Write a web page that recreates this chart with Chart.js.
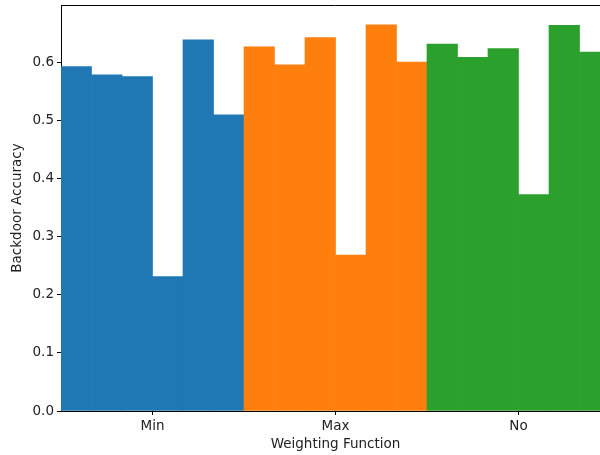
<!DOCTYPE html>
<html>
<head>
<meta charset="utf-8">
<script src="https://cdn.jsdelivr.net/npm/chart.js@4"></script>
<style>
  html, body { margin: 0; padding: 0; background: #fff; overflow: hidden; }
  #wrap { width: 620px; height: 455px; }
</style>
</head>
<body>
<div id="wrap"><canvas id="c" width="620" height="455"></canvas></div>
<script>
// Weighting functions on the x axis
const categories = ['Min', 'Max', 'No'];
// Backdoor accuracy of the six runs under each weighting function
const minScores = [0.592, 0.578, 0.575, 0.231, 0.638, 0.509];
const maxScores = [0.626, 0.595, 0.642, 0.268, 0.664, 0.600];
const noScores  = [0.631, 0.608, 0.623, 0.372, 0.663, 0.617];
const groupColors = ['#1f77b4', '#ff7f0e', '#2ca02c'];
const yTicks = [0.0, 0.1, 0.2, 0.3, 0.4, 0.5, 0.6];

const FONT = { family: 'DejaVu Sans', size: 13.5 };

// One dataset per run; each run contributes one bar to every group
const datasets = minScores.map((_, i) => ({
  label: 'Run ' + (i + 1),
  data: [minScores[i], maxScores[i], noScores[i]],
  backgroundColor: groupColors,
  borderWidth: 0,
  categoryPercentage: 1.0,
  barPercentage: 1.0
}));

// Top and right spines of the axes frame
const frame = {
  id: 'frame',
  afterDraw(chart) {
    const { ctx, chartArea: a } = chart;
    ctx.save();
    ctx.strokeStyle = '#000';
    ctx.lineWidth = 1;
    ctx.beginPath();
    ctx.moveTo(a.left, a.top + 0.5);
    ctx.lineTo(a.right, a.top + 0.5);
    ctx.lineTo(a.right, a.bottom);
    ctx.stroke();
    ctx.restore();
  }
};

new Chart(document.getElementById('c'), {
  type: 'bar',
  data: { labels: categories, datasets },
  options: {
    responsive: false,
    animation: false,
    layout: { padding: { top: 5, right: 10, left: 0, bottom: 0 } },
    plugins: { legend: { display: false }, tooltip: { enabled: false } },
    scales: {
      x: {
        offset: true,
        grid: { offset: false, drawOnChartArea: false, drawTicks: true, tickLength: 4, color: '#000' },
        border: { color: '#000', width: 1 },
        ticks: { color: '#222', font: FONT, padding: 3, maxRotation: 0 },
        title: { display: true, text: 'Weighting Function', color: '#222', font: FONT, padding: { top: 0, bottom: 2 } },
        afterFit(s) { s.height = 44; s.paddingLeft = 0; s.paddingRight = 0; }
      },
      y: {
        min: 0,
        max: 0.698,
        afterBuildTicks(s) { s.ticks = yTicks.map(v => ({ value: v })); },
        grid: { drawOnChartArea: false, drawTicks: true, tickLength: 4, color: '#000' },
        border: { color: '#000', width: 1 },
        ticks: { color: '#222', font: FONT, padding: 3, callback: v => v.toFixed(1) },
        title: { display: true, text: 'Backdoor Accuracy', color: '#222', font: FONT, padding: { top: 9, bottom: 0 } },
        afterFit(s) { s.width = 61; s.paddingTop = 0; s.paddingBottom = 0; }
      }
    }
  },
  plugins: [frame]
});
</script>
</body>
</html>
